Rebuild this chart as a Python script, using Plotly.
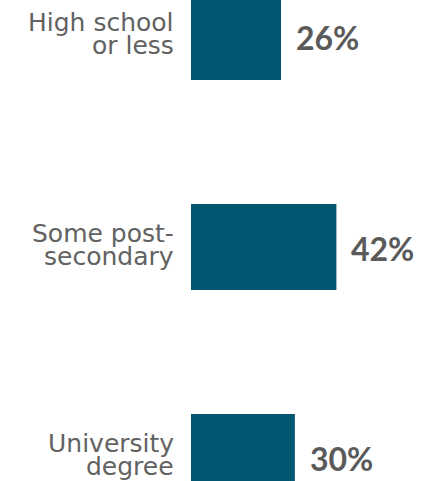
import plotly.graph_objects as go

categories = ["High school or less", "Some post-secondary", "University degree"]
label_lines = [["High school", "or less"], ["Some post-", "secondary"], ["University", "degree"]]
values = [26, 42, 30]
value_labels = ["26%", "42%", "30%"]

BAR = "#03566f"
GREY = "#5a5a5a"
LABEL_GREY = "#626262"

fig = go.Figure()
fig.add_trace(go.Bar(
    x=values, y=categories, orientation="h",
    marker=dict(color=BAR, line=dict(width=0)),
    width=0.41, hoverinfo="skip", showlegend=False,
))

ann = []
for cat, v, lab, lines in zip(categories, values, value_labels, label_lines):
    ann.append(dict(x=v, y=cat, xref="x", yref="y", text=lab, showarrow=False,
                    xanchor="left", yanchor="middle", xshift=13, yshift=-1,
                    font=dict(family="Lato", size=32, color=GREY, weight="bold")))
    ann.append(dict(x=0, y=cat, xref="x", yref="y", text=lines[0], showarrow=False,
                    xanchor="right", yanchor="middle", xshift=-15, yshift=14,
                    font=dict(family="DejaVu Sans", size=25, color=LABEL_GREY)))
    ann.append(dict(x=0, y=cat, xref="x", yref="y", text=lines[1], showarrow=False,
                    xanchor="right", yanchor="middle", xshift=-15, yshift=-9,
                    font=dict(family="DejaVu Sans", size=25, color=LABEL_GREY)))

fig.update_layout(
    width=442, height=481,
    margin=dict(l=191, r=0, t=0, b=0),
    paper_bgcolor="white", plot_bgcolor="white",
    xaxis=dict(range=[0, 72.5], visible=False, fixedrange=True),
    yaxis=dict(range=[2.114, -0.176], visible=False, fixedrange=True),
    annotations=ann,
)

fig.write_html("out.html")
